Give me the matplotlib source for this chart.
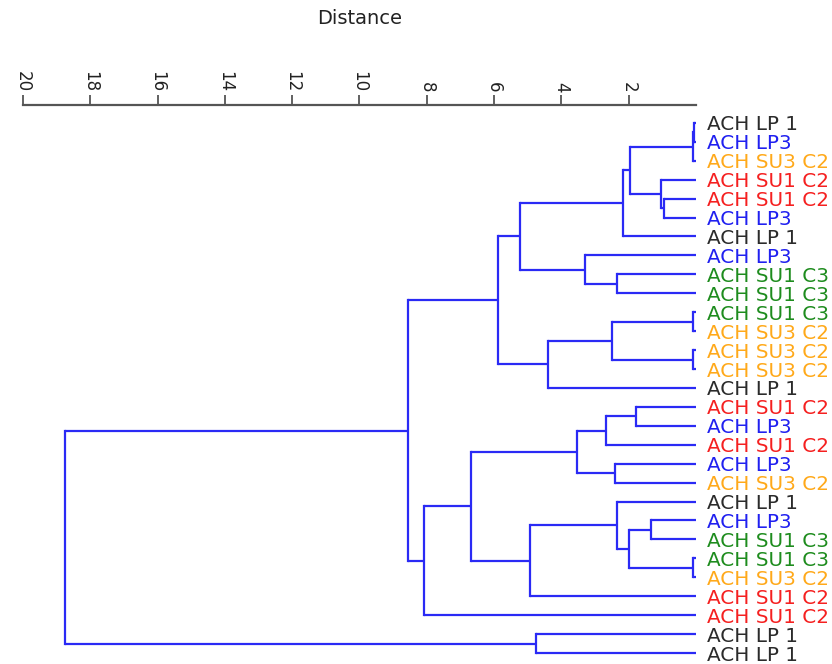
import numpy as np
import matplotlib
matplotlib.use("Agg")
import matplotlib.pyplot as plt

# leaf labels top to bottom
leaf_labels = [
    "ACH LP 1", "ACH LP3", "ACH SU3 C2", "ACH SU1 C2", "ACH SU1 C2",
    "ACH LP3", "ACH LP 1", "ACH LP3", "ACH SU1 C3", "ACH SU1 C3",
    "ACH SU1 C3", "ACH SU3 C2", "ACH SU3 C2", "ACH SU3 C2", "ACH LP 1",
    "ACH SU1 C2", "ACH LP3", "ACH SU1 C2", "ACH LP3", "ACH SU3 C2",
    "ACH LP 1", "ACH LP3", "ACH SU1 C3", "ACH SU1 C3", "ACH SU3 C2",
    "ACH SU1 C2", "ACH SU1 C2", "ACH LP 1", "ACH LP 1",
]

group_colors = {
    "ACH LP 1": "#2b2b2b",
    "ACH LP3": "#2020f0",
    "ACH SU3 C2": "#ffa91a",
    "ACH SU1 C2": "#f52020",
    "ACH SU1 C3": "#1e8c1e",
}

# merges: (child a, child b, distance); leaves are 0..28, new clusters from 29
merge_a = [0, 29, 4, 3, 30, 33, 8, 7, 34, 10, 12, 38, 40, 37,
           15, 43, 18, 44, 21, 23, 47, 20, 50, 46, 52, 42, 27, 54]
merge_b = [1, 2, 5, 31, 32, 6, 9, 35, 36, 11, 13, 39, 14, 41,
           16, 17, 19, 45, 22, 24, 48, 49, 25, 51, 26, 53, 28, 55]
merge_dist = [0.05, 0.1, 0.95, 1.03, 1.96, 2.16, 2.36, 3.30, 5.24, 0.1, 0.1, 2.49, 4.39, 5.88,
              1.79, 2.68, 2.41, 3.55, 1.35, 0.1, 1.98, 2.36, 4.92, 6.70, 8.08, 8.56, 4.74, 18.75]

line_color = "#2a2af5"

n = len(leaf_labels)
pos = {i: float(i) for i in range(n)}
height = {i: 0.0 for i in range(n)}

fig = plt.figure(figsize=(8.32, 6.64), dpi=100)
ax = fig.add_axes([0.0276, 0.0, 0.8089, 0.842])

for k, (a, b, d) in enumerate(zip(merge_a, merge_b, merge_dist)):
    c = n + k
    ya, yb = pos[a], pos[b]
    ax.plot([height[a], d], [ya, ya], color=line_color, lw=1.6, solid_capstyle="butt")
    ax.plot([height[b], d], [yb, yb], color=line_color, lw=1.6, solid_capstyle="butt")
    ax.plot([d, d], [ya, yb], color=line_color, lw=1.6, solid_capstyle="projecting")
    pos[c] = (ya + yb) / 2
    height[c] = d

ax.set_xlim(20, 0)
ax.set_ylim(28.58, -0.95)

for s in ["left", "right", "bottom"]:
    ax.spines[s].set_visible(False)
ax.spines["top"].set_color("#555555")
ax.spines["top"].set_linewidth(1.6)

ax.xaxis.tick_top()
ax.set_xticks(np.arange(2, 21, 2))
ax.tick_params(axis="x", direction="out", length=7, width=1.3, color="#555555",
               labelsize=12, labelrotation=-90, labelcolor="#222222", pad=2)
ax.xaxis.set_label_position("top")
ax.set_xlabel("Distance", fontsize=14, color="#222222", labelpad=34)

ax.yaxis.tick_right()
ax.set_yticks(range(n))
ax.set_yticklabels(leaf_labels, fontsize=14.4)
ax.tick_params(axis="y", length=0, pad=8)
for lbl, name in zip(ax.get_yticklabels(), leaf_labels):
    lbl.set_color(group_colors[name])

fig.savefig("out.png", dpi=100)
